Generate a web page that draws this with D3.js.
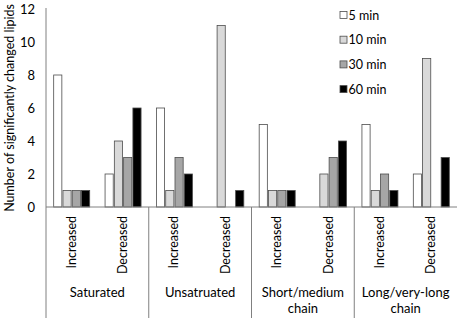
<!DOCTYPE html>
<html>
<head>
<meta charset="utf-8">
<script src="https://cdn.jsdelivr.net/npm/d3@7"></script>
<style>
  body { margin: 0; background: #fff; }
  text { font-family: Lato, "Open Sans", sans-serif; fill: #000; }
</style>
</head>
<body>
<svg id="chart"></svg>
<script>
// chart data
const groups = ['Saturated', 'Unsatruated', 'Short/medium chain', 'Long/very-long chain'];
const directions = ['Increased', 'Decreased'];
const series = ['5 min', '10 min', '30 min', '60 min'];
const min5  = [8, 2, 6, 0, 5, 0, 5, 2];
const min10 = [1, 4, 1, 11, 1, 2, 1, 9];
const min30 = [1, 3, 3, 0, 1, 3, 2, 0];
const min60 = [1, 6, 2, 1, 1, 4, 1, 3];
const yTicks = [0, 2, 4, 6, 8, 10, 12];

const width = 459;
const height = 323;
const margin = { left: 46, right: 2, top: 9, bottom: 116 };

const colors = d3.scaleOrdinal()
    .domain(series)
    .range(['#ffffff', '#d9d9d9', '#a6a6a6', '#000000']);

const svg = d3.select('#chart').attr('width', width).attr('height', height);

// build one row per category
const cats = [];
groups.forEach((g, gi) => {
    directions.forEach((d, di) => {
        const i = gi * 2 + di;
        cats.push({ id: i, group: g, dir: d, values: [min5[i], min10[i], min30[i], min60[i]] });
    });
});

const x0 = d3.scaleBand()
    .domain(cats.map(d => d.id))
    .range([margin.left, width - margin.right])
    .padding(0);

const bw = x0.bandwidth();
const x1 = d3.scaleBand()
    .domain(series)
    .range([bw / 2 - 18, bw / 2 + 18])
    .paddingInner(0.12);

const y = d3.scaleLinear()
    .domain([0, 12])
    .range([height - margin.bottom, margin.top]);

// y axis labels
const yAxis = svg.append('g')
    .attr('transform', `translate(${margin.left},0)`)
    .call(d3.axisLeft(y).tickValues(yTicks).tickSize(0).tickPadding(11));
yAxis.select('.domain').remove();
yAxis.selectAll('text').style('font-size', '13px').style('font-family', 'Lato, sans-serif').attr('fill', '#000');

svg.append('text')
    .attr('transform', `translate(14,${(y(0) + y(12)) / 2}) rotate(-90)`)
    .attr('text-anchor', 'middle')
    .style('font-size', '12.5px')
    .text('Number of significantly changed lipids');

// bars
const catG = svg.selectAll('g.cat')
    .data(cats)
    .enter().append('g')
    .attr('class', 'cat')
    .attr('transform', d => `translate(${x0(d.id)},0)`);

catG.selectAll('rect')
    .data(d => d.values.map((v, k) => ({ s: series[k], v: v })).filter(e => e.v > 0))
    .enter().append('rect')
    .attr('x', d => x1(d.s))
    .attr('width', x1.bandwidth())
    .attr('y', d => y(d.v))
    .attr('height', d => y(0) - y(d.v))
    .attr('fill', d => colors(d.s))
    .attr('stroke', '#4d4d4d')
    .attr('stroke-width', 0.8);

// axes lines
svg.append('line')
    .attr('x1', margin.left).attr('x2', margin.left)
    .attr('y1', y(12) - 1).attr('y2', 318)
    .attr('stroke', '#808080');
svg.append('line')
    .attr('x1', margin.left).attr('x2', width - margin.right)
    .attr('y1', y(0)).attr('y2', y(0))
    .attr('stroke', '#808080');

// group separators
groups.slice(1).forEach((g, i) => {
    const xs = x0((i + 1) * 2);
    svg.append('line')
        .attr('x1', xs).attr('x2', xs)
        .attr('y1', y(0)).attr('y2', 318)
        .attr('stroke', '#808080');
});

// direction labels
catG.append('text')
    .attr('transform', `translate(${bw / 2 + 4},${y(0) + 9}) rotate(-90)`)
    .attr('text-anchor', 'end')
    .style('font-size', '12.5px')
    .text(d => d.dir);

// group labels
groups.forEach((g, gi) => {
    const cx = x0(gi * 2) + bw;
    const words = g.split(' ');
    const t = svg.append('text')
        .attr('text-anchor', 'middle')
        .style('font-size', '13px');
    words.forEach((w, wi) => {
        t.append('tspan').attr('x', cx).attr('y', 297 + wi * 16).text(w);
    });
});

// legend
const legend = svg.selectAll('g.legend')
    .data(series)
    .enter().append('g')
    .attr('class', 'legend')
    .attr('transform', (d, i) => `translate(340,${15 + i * 24.7})`);
legend.append('rect')
    .attr('x', 0).attr('y', -3.5)
    .attr('width', 7).attr('height', 7)
    .attr('fill', d => colors(d))
    .attr('stroke', '#4d4d4d')
    .attr('stroke-width', 0.8);
legend.append('text')
    .attr('x', 8.5).attr('y', 4.5)
    .style('font-size', '12.5px')
    .text(d => d);
</script>
</body>
</html>
